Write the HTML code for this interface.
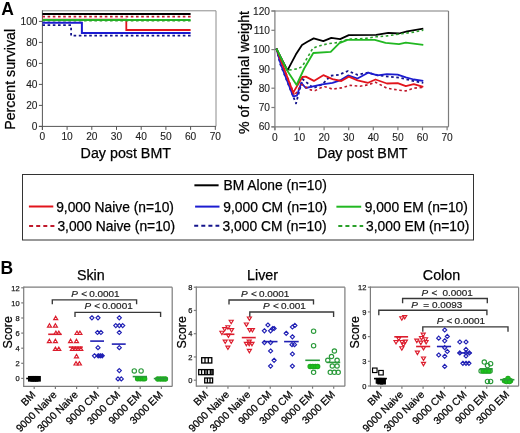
<!DOCTYPE html>
<html><head><meta charset="utf-8"><style>
html,body{margin:0;padding:0;background:#fff;overflow:hidden;width:520px;height:433px;}
svg{display:block;font-family:"Liberation Sans", sans-serif;will-change:transform;}
</style></head><body>
<svg width="520" height="433" viewBox="0 0 520 433">
<rect width="520" height="433" fill="#fff"/>
<text x="1.30" y="14.60" font-size="17.5" text-anchor="start" fill="#000" font-weight="bold" font-style="normal">A</text>
<line x1="42.40" y1="10.80" x2="216.00" y2="10.80" stroke="#8c8c8c" stroke-width="1" stroke-linecap="butt"/>
<line x1="216.00" y1="10.80" x2="216.00" y2="126.40" stroke="#8c8c8c" stroke-width="1" stroke-linecap="butt"/>
<line x1="42.40" y1="10.30" x2="42.40" y2="129.90" stroke="#555" stroke-width="1" stroke-linecap="butt"/>
<line x1="38.90" y1="126.40" x2="216.00" y2="126.40" stroke="#555" stroke-width="1" stroke-linecap="butt"/>
<line x1="38.90" y1="126.40" x2="42.40" y2="126.40" stroke="#555" stroke-width="1" stroke-linecap="butt"/>
<text x="37.50" y="130.00" font-size="10.2" text-anchor="end" fill="#1e1e1e" font-weight="normal" font-style="normal" stroke="#1e1e1e" stroke-width="0.12">0</text>
<line x1="38.90" y1="105.40" x2="42.40" y2="105.40" stroke="#555" stroke-width="1" stroke-linecap="butt"/>
<text x="37.50" y="109.00" font-size="10.2" text-anchor="end" fill="#1e1e1e" font-weight="normal" font-style="normal" stroke="#1e1e1e" stroke-width="0.12">20</text>
<line x1="38.90" y1="84.40" x2="42.40" y2="84.40" stroke="#555" stroke-width="1" stroke-linecap="butt"/>
<text x="37.50" y="88.00" font-size="10.2" text-anchor="end" fill="#1e1e1e" font-weight="normal" font-style="normal" stroke="#1e1e1e" stroke-width="0.12">40</text>
<line x1="38.90" y1="63.40" x2="42.40" y2="63.40" stroke="#555" stroke-width="1" stroke-linecap="butt"/>
<text x="37.50" y="67.00" font-size="10.2" text-anchor="end" fill="#1e1e1e" font-weight="normal" font-style="normal" stroke="#1e1e1e" stroke-width="0.12">60</text>
<line x1="38.90" y1="42.40" x2="42.40" y2="42.40" stroke="#555" stroke-width="1" stroke-linecap="butt"/>
<text x="37.50" y="46.00" font-size="10.2" text-anchor="end" fill="#1e1e1e" font-weight="normal" font-style="normal" stroke="#1e1e1e" stroke-width="0.12">80</text>
<line x1="38.90" y1="21.40" x2="42.40" y2="21.40" stroke="#555" stroke-width="1" stroke-linecap="butt"/>
<text x="37.50" y="25.00" font-size="10.2" text-anchor="end" fill="#1e1e1e" font-weight="normal" font-style="normal" stroke="#1e1e1e" stroke-width="0.12">100</text>
<line x1="42.40" y1="126.40" x2="42.40" y2="129.90" stroke="#555" stroke-width="1" stroke-linecap="butt"/>
<text x="42.40" y="140.30" font-size="10.2" text-anchor="middle" fill="#1e1e1e" font-weight="normal" font-style="normal" stroke="#1e1e1e" stroke-width="0.12">0</text>
<line x1="67.10" y1="126.40" x2="67.10" y2="129.90" stroke="#555" stroke-width="1" stroke-linecap="butt"/>
<text x="67.10" y="140.30" font-size="10.2" text-anchor="middle" fill="#1e1e1e" font-weight="normal" font-style="normal" stroke="#1e1e1e" stroke-width="0.12">10</text>
<line x1="91.80" y1="126.40" x2="91.80" y2="129.90" stroke="#555" stroke-width="1" stroke-linecap="butt"/>
<text x="91.80" y="140.30" font-size="10.2" text-anchor="middle" fill="#1e1e1e" font-weight="normal" font-style="normal" stroke="#1e1e1e" stroke-width="0.12">20</text>
<line x1="116.50" y1="126.40" x2="116.50" y2="129.90" stroke="#555" stroke-width="1" stroke-linecap="butt"/>
<text x="116.50" y="140.30" font-size="10.2" text-anchor="middle" fill="#1e1e1e" font-weight="normal" font-style="normal" stroke="#1e1e1e" stroke-width="0.12">30</text>
<line x1="141.20" y1="126.40" x2="141.20" y2="129.90" stroke="#555" stroke-width="1" stroke-linecap="butt"/>
<text x="141.20" y="140.30" font-size="10.2" text-anchor="middle" fill="#1e1e1e" font-weight="normal" font-style="normal" stroke="#1e1e1e" stroke-width="0.12">40</text>
<line x1="165.90" y1="126.40" x2="165.90" y2="129.90" stroke="#555" stroke-width="1" stroke-linecap="butt"/>
<text x="165.90" y="140.30" font-size="10.2" text-anchor="middle" fill="#1e1e1e" font-weight="normal" font-style="normal" stroke="#1e1e1e" stroke-width="0.12">50</text>
<line x1="190.60" y1="126.40" x2="190.60" y2="129.90" stroke="#555" stroke-width="1" stroke-linecap="butt"/>
<text x="190.60" y="140.30" font-size="10.2" text-anchor="middle" fill="#1e1e1e" font-weight="normal" font-style="normal" stroke="#1e1e1e" stroke-width="0.12">60</text>
<line x1="215.30" y1="126.40" x2="215.30" y2="129.90" stroke="#555" stroke-width="1" stroke-linecap="butt"/>
<text x="215.30" y="140.30" font-size="10.2" text-anchor="middle" fill="#1e1e1e" font-weight="normal" font-style="normal" stroke="#1e1e1e" stroke-width="0.12">70</text>
<text x="14.70" y="79.30" font-size="14.2" text-anchor="middle" fill="#000" font-weight="normal" font-style="normal" transform="rotate(-90 14.70 79.30)" stroke="#000" stroke-width="0.25">Percent survival</text>
<text x="125.80" y="157.90" font-size="14.27" text-anchor="middle" fill="#000" font-weight="normal" font-style="normal" stroke="#000" stroke-width="0.25">Day post BMT</text>
<line x1="42.40" y1="14.00" x2="190.60" y2="14.00" stroke="#000" stroke-width="2" stroke-linecap="butt"/>
<line x1="42.40" y1="16.60" x2="190.60" y2="16.60" stroke="#c01a2c" stroke-width="1.6" stroke-dasharray="2.6 2.6" stroke-linecap="butt"/>
<polyline points="42.40,19.60 126.30,19.60 126.30,30.00 190.60,30.00" fill="none" stroke="#e2141c" stroke-width="1.8" stroke-linejoin="miter"/>
<line x1="42.40" y1="19.90" x2="190.60" y2="19.90" stroke="#22b822" stroke-width="2" stroke-linecap="butt"/>
<line x1="42.40" y1="20.90" x2="190.60" y2="20.90" stroke="#2aa02a" stroke-width="1.4" stroke-dasharray="2.6 2.6" stroke-linecap="butt"/>
<polyline points="42.40,22.80 81.90,22.80 81.90,32.90 190.60,32.90" fill="none" stroke="#1c1cd0" stroke-width="2" stroke-linejoin="miter"/>
<polyline points="42.40,25.20 71.10,25.20 71.10,35.60 190.60,35.60" fill="none" stroke="#14148c" stroke-width="1.8" stroke-dasharray="2.6 2.6" stroke-linejoin="miter"/>
<line x1="271.40" y1="11.00" x2="448.50" y2="11.00" stroke="#7c7c7c" stroke-width="1.2" stroke-linecap="butt"/>
<line x1="448.50" y1="11.00" x2="448.50" y2="126.80" stroke="#7c7c7c" stroke-width="1.2" stroke-linecap="butt"/>
<line x1="274.90" y1="10.40" x2="274.90" y2="130.30" stroke="#7c7c7c" stroke-width="1.2" stroke-linecap="butt"/>
<line x1="271.40" y1="126.80" x2="448.50" y2="126.80" stroke="#7c7c7c" stroke-width="1.2" stroke-linecap="butt"/>
<line x1="271.40" y1="126.80" x2="274.90" y2="126.80" stroke="#7c7c7c" stroke-width="1.2" stroke-linecap="butt"/>
<text x="270.00" y="130.40" font-size="10.2" text-anchor="end" fill="#1e1e1e" font-weight="normal" font-style="normal" stroke="#1e1e1e" stroke-width="0.12">60</text>
<line x1="271.40" y1="107.50" x2="274.90" y2="107.50" stroke="#7c7c7c" stroke-width="1.2" stroke-linecap="butt"/>
<text x="270.00" y="111.10" font-size="10.2" text-anchor="end" fill="#1e1e1e" font-weight="normal" font-style="normal" stroke="#1e1e1e" stroke-width="0.12">70</text>
<line x1="271.40" y1="88.20" x2="274.90" y2="88.20" stroke="#7c7c7c" stroke-width="1.2" stroke-linecap="butt"/>
<text x="270.00" y="91.80" font-size="10.2" text-anchor="end" fill="#1e1e1e" font-weight="normal" font-style="normal" stroke="#1e1e1e" stroke-width="0.12">80</text>
<line x1="271.40" y1="68.90" x2="274.90" y2="68.90" stroke="#7c7c7c" stroke-width="1.2" stroke-linecap="butt"/>
<text x="270.00" y="72.50" font-size="10.2" text-anchor="end" fill="#1e1e1e" font-weight="normal" font-style="normal" stroke="#1e1e1e" stroke-width="0.12">90</text>
<line x1="271.40" y1="49.60" x2="274.90" y2="49.60" stroke="#7c7c7c" stroke-width="1.2" stroke-linecap="butt"/>
<text x="270.00" y="53.20" font-size="10.2" text-anchor="end" fill="#1e1e1e" font-weight="normal" font-style="normal" stroke="#1e1e1e" stroke-width="0.12">100</text>
<line x1="271.40" y1="30.30" x2="274.90" y2="30.30" stroke="#7c7c7c" stroke-width="1.2" stroke-linecap="butt"/>
<text x="270.00" y="33.90" font-size="10.2" text-anchor="end" fill="#1e1e1e" font-weight="normal" font-style="normal" stroke="#1e1e1e" stroke-width="0.12">110</text>
<line x1="271.40" y1="11.00" x2="274.90" y2="11.00" stroke="#7c7c7c" stroke-width="1.2" stroke-linecap="butt"/>
<text x="270.00" y="14.60" font-size="10.2" text-anchor="end" fill="#1e1e1e" font-weight="normal" font-style="normal" stroke="#1e1e1e" stroke-width="0.12">120</text>
<line x1="274.90" y1="126.80" x2="274.90" y2="130.30" stroke="#7c7c7c" stroke-width="1.2" stroke-linecap="butt"/>
<text x="274.90" y="140.70" font-size="10.2" text-anchor="middle" fill="#1e1e1e" font-weight="normal" font-style="normal" stroke="#1e1e1e" stroke-width="0.12">0</text>
<line x1="299.50" y1="126.80" x2="299.50" y2="130.30" stroke="#7c7c7c" stroke-width="1.2" stroke-linecap="butt"/>
<text x="299.50" y="140.70" font-size="10.2" text-anchor="middle" fill="#1e1e1e" font-weight="normal" font-style="normal" stroke="#1e1e1e" stroke-width="0.12">10</text>
<line x1="324.10" y1="126.80" x2="324.10" y2="130.30" stroke="#7c7c7c" stroke-width="1.2" stroke-linecap="butt"/>
<text x="324.10" y="140.70" font-size="10.2" text-anchor="middle" fill="#1e1e1e" font-weight="normal" font-style="normal" stroke="#1e1e1e" stroke-width="0.12">20</text>
<line x1="348.70" y1="126.80" x2="348.70" y2="130.30" stroke="#7c7c7c" stroke-width="1.2" stroke-linecap="butt"/>
<text x="348.70" y="140.70" font-size="10.2" text-anchor="middle" fill="#1e1e1e" font-weight="normal" font-style="normal" stroke="#1e1e1e" stroke-width="0.12">30</text>
<line x1="373.30" y1="126.80" x2="373.30" y2="130.30" stroke="#7c7c7c" stroke-width="1.2" stroke-linecap="butt"/>
<text x="373.30" y="140.70" font-size="10.2" text-anchor="middle" fill="#1e1e1e" font-weight="normal" font-style="normal" stroke="#1e1e1e" stroke-width="0.12">40</text>
<line x1="397.90" y1="126.80" x2="397.90" y2="130.30" stroke="#7c7c7c" stroke-width="1.2" stroke-linecap="butt"/>
<text x="397.90" y="140.70" font-size="10.2" text-anchor="middle" fill="#1e1e1e" font-weight="normal" font-style="normal" stroke="#1e1e1e" stroke-width="0.12">50</text>
<line x1="422.50" y1="126.80" x2="422.50" y2="130.30" stroke="#7c7c7c" stroke-width="1.2" stroke-linecap="butt"/>
<text x="422.50" y="140.70" font-size="10.2" text-anchor="middle" fill="#1e1e1e" font-weight="normal" font-style="normal" stroke="#1e1e1e" stroke-width="0.12">60</text>
<line x1="447.10" y1="126.80" x2="447.10" y2="130.30" stroke="#7c7c7c" stroke-width="1.2" stroke-linecap="butt"/>
<text x="447.10" y="140.70" font-size="10.2" text-anchor="middle" fill="#1e1e1e" font-weight="normal" font-style="normal" stroke="#1e1e1e" stroke-width="0.12">70</text>
<text x="248.70" y="72.50" font-size="14.2" text-anchor="middle" fill="#000" font-weight="normal" font-style="normal" transform="rotate(-90 248.70 72.50)" stroke="#000" stroke-width="0.25">% of original weight</text>
<text x="362.30" y="157.90" font-size="14.27" text-anchor="middle" fill="#000" font-weight="normal" font-style="normal" stroke="#000" stroke-width="0.25">Day post BMT</text>
<polyline points="276.40,48.60 280.40,64.50 296.00,103.40 302.50,79.00 313.30,88.00 322.50,84.30 330.50,75.80 338.80,74.80 348.10,71.00 357.50,74.80 368.10,72.70 377.50,75.20 389.60,76.80 400.40,77.80 411.10,80.50 423.30,82.80" fill="none" stroke="#14148c" stroke-width="1.8" stroke-dasharray="2.6 2.6" stroke-linejoin="round"/>
<polyline points="276.40,48.60 280.80,64.50 293.20,96.40 296.90,95.60 301.30,82.90 305.80,88.00 311.90,86.70 322.20,84.30 332.50,82.90 340.00,80.40 348.10,75.40 357.50,78.50 368.10,72.70 377.50,75.40 386.90,74.10 397.70,74.70 405.80,77.40 413.80,79.50 423.30,80.80" fill="none" stroke="#1c1cd0" stroke-width="1.8" stroke-linejoin="round"/>
<polyline points="276.40,48.60 294.50,95.50 301.50,84.50 310.50,89.90 315.30,90.50 320.20,88.10 324.70,86.70 332.50,89.10 341.30,87.90 350.00,85.40 360.00,86.20 368.10,84.80 375.50,82.20 386.90,88.20 397.70,90.00 405.80,90.90 413.80,88.20 423.30,87.30" fill="none" stroke="#c01a2c" stroke-width="1.6" stroke-dasharray="2.6 2.6" stroke-linejoin="round"/>
<polyline points="276.40,48.60 293.20,92.60 302.40,77.00 305.80,76.60 313.90,80.90 323.30,75.20 332.50,79.10 341.30,81.00 348.80,76.60 357.50,80.40 368.10,82.80 375.50,79.50 386.90,83.50 397.70,83.20 405.80,86.20 413.80,84.20 423.30,86.90" fill="none" stroke="#e2141c" stroke-width="1.8" stroke-linejoin="round"/>
<polyline points="276.40,48.60 287.50,70.30 295.80,54.60 302.00,44.90 307.40,41.70 313.70,38.40 323.30,41.20 331.30,37.80 340.10,39.10 348.80,35.10 376.20,34.80 388.30,32.80 399.00,33.50 407.10,31.40 423.30,28.70" fill="none" stroke="#000" stroke-width="1.8" stroke-linejoin="round"/>
<polyline points="276.40,48.60 287.50,70.30 297.50,68.80 302.30,66.50 312.80,48.40 316.60,46.70 327.30,43.80 338.10,42.50 348.80,39.10 365.00,38.50 376.20,36.80 386.90,35.90 399.00,34.10 413.80,32.10 423.30,30.10" fill="none" stroke="#2aa02a" stroke-width="1.6" stroke-dasharray="2.6 2.6" stroke-linejoin="round"/>
<polyline points="276.40,48.60 287.30,70.80 296.60,85.00 304.20,68.50 313.30,53.00 330.70,51.90 339.40,43.20 347.50,39.80 374.80,39.90 385.60,42.90 399.00,44.20 405.80,42.60 423.30,44.90" fill="none" stroke="#22b822" stroke-width="1.8" stroke-linejoin="round"/>
<rect x="22.5" y="174.5" width="451" height="65.5" fill="none" stroke="#333" stroke-width="1"/>
<line x1="194.40" y1="185.30" x2="218.60" y2="185.30" stroke="#000" stroke-width="2" stroke-linecap="butt"/>
<text x="223.60" y="190.30" font-size="13.8" text-anchor="start" fill="#000" font-weight="normal" font-style="normal" stroke="#000" stroke-width="0.25">BM Alone (n=10)</text>
<line x1="28.90" y1="206.50" x2="53.30" y2="206.50" stroke="#e2141c" stroke-width="2" stroke-linecap="butt"/>
<text x="56.20" y="211.80" font-size="13.8" text-anchor="start" fill="#000" font-weight="normal" font-style="normal" stroke="#000" stroke-width="0.25">9,000 Naive (n=10)</text>
<line x1="29.10" y1="225.90" x2="54.40" y2="225.90" stroke="#c01a2c" stroke-width="2" stroke-dasharray="4 3.1" stroke-linecap="butt"/>
<text x="57.40" y="231.20" font-size="13.8" text-anchor="start" fill="#000" font-weight="normal" font-style="normal" stroke="#000" stroke-width="0.25">3,000 Naive (n=10)</text>
<line x1="195.10" y1="206.60" x2="219.50" y2="206.60" stroke="#1c1cd0" stroke-width="2" stroke-linecap="butt"/>
<text x="223.30" y="211.80" font-size="13.8" text-anchor="start" fill="#000" font-weight="normal" font-style="normal" stroke="#000" stroke-width="0.25">9,000 CM (n=10)</text>
<line x1="194.20" y1="225.80" x2="219.30" y2="225.80" stroke="#14148c" stroke-width="2" stroke-dasharray="4 3.1" stroke-linecap="butt"/>
<text x="222.60" y="231.20" font-size="13.8" text-anchor="start" fill="#000" font-weight="normal" font-style="normal" stroke="#000" stroke-width="0.25">3,000 CM (n=10)</text>
<line x1="336.40" y1="206.70" x2="361.20" y2="206.70" stroke="#22b822" stroke-width="2" stroke-linecap="butt"/>
<text x="364.70" y="211.80" font-size="13.8" text-anchor="start" fill="#000" font-weight="normal" font-style="normal" stroke="#000" stroke-width="0.25">9,000 EM (n=10)</text>
<line x1="338.30" y1="225.90" x2="363.20" y2="225.90" stroke="#2aa02a" stroke-width="2" stroke-dasharray="4 3.1" stroke-linecap="butt"/>
<text x="366.10" y="231.20" font-size="13.8" text-anchor="start" fill="#000" font-weight="normal" font-style="normal" stroke="#000" stroke-width="0.25">3,000 EM (n=10)</text>
<text x="0.60" y="273.90" font-size="17.5" text-anchor="start" fill="#000" font-weight="bold" font-style="normal">B</text>
<line x1="23.70" y1="287.20" x2="172.20" y2="287.20" stroke="#7c7c7c" stroke-width="1.2" stroke-linecap="butt"/>
<line x1="172.20" y1="287.20" x2="172.20" y2="386.40" stroke="#7c7c7c" stroke-width="1.2" stroke-linecap="butt"/>
<line x1="23.70" y1="286.60" x2="23.70" y2="387.00" stroke="#7c7c7c" stroke-width="1.2" stroke-linecap="butt"/>
<line x1="23.70" y1="386.40" x2="172.20" y2="386.40" stroke="#7c7c7c" stroke-width="1.2" stroke-linecap="butt"/>
<line x1="21.20" y1="378.40" x2="23.70" y2="378.40" stroke="#7c7c7c" stroke-width="1.2" stroke-linecap="butt"/>
<text x="19.70" y="381.10" font-size="7.5" text-anchor="end" fill="#1e1e1e" font-weight="normal" font-style="normal" stroke="#1e1e1e" stroke-width="0.25">0</text>
<line x1="21.20" y1="363.30" x2="23.70" y2="363.30" stroke="#7c7c7c" stroke-width="1.2" stroke-linecap="butt"/>
<text x="19.70" y="366.00" font-size="7.5" text-anchor="end" fill="#1e1e1e" font-weight="normal" font-style="normal" stroke="#1e1e1e" stroke-width="0.25">2</text>
<line x1="21.20" y1="348.20" x2="23.70" y2="348.20" stroke="#7c7c7c" stroke-width="1.2" stroke-linecap="butt"/>
<text x="19.70" y="350.90" font-size="7.5" text-anchor="end" fill="#1e1e1e" font-weight="normal" font-style="normal" stroke="#1e1e1e" stroke-width="0.25">4</text>
<line x1="21.20" y1="333.10" x2="23.70" y2="333.10" stroke="#7c7c7c" stroke-width="1.2" stroke-linecap="butt"/>
<text x="19.70" y="335.80" font-size="7.5" text-anchor="end" fill="#1e1e1e" font-weight="normal" font-style="normal" stroke="#1e1e1e" stroke-width="0.25">6</text>
<line x1="21.20" y1="318.00" x2="23.70" y2="318.00" stroke="#7c7c7c" stroke-width="1.2" stroke-linecap="butt"/>
<text x="19.70" y="320.70" font-size="7.5" text-anchor="end" fill="#1e1e1e" font-weight="normal" font-style="normal" stroke="#1e1e1e" stroke-width="0.25">8</text>
<line x1="21.20" y1="302.90" x2="23.70" y2="302.90" stroke="#7c7c7c" stroke-width="1.2" stroke-linecap="butt"/>
<text x="19.70" y="305.60" font-size="7.5" text-anchor="end" fill="#1e1e1e" font-weight="normal" font-style="normal" stroke="#1e1e1e" stroke-width="0.25">10</text>
<line x1="21.20" y1="287.80" x2="23.70" y2="287.80" stroke="#7c7c7c" stroke-width="1.2" stroke-linecap="butt"/>
<text x="19.70" y="290.50" font-size="7.5" text-anchor="end" fill="#1e1e1e" font-weight="normal" font-style="normal" stroke="#1e1e1e" stroke-width="0.25">12</text>
<line x1="34.20" y1="386.40" x2="34.20" y2="388.90" stroke="#7c7c7c" stroke-width="1.2" stroke-linecap="butt"/>
<line x1="55.40" y1="386.40" x2="55.40" y2="388.90" stroke="#7c7c7c" stroke-width="1.2" stroke-linecap="butt"/>
<line x1="76.60" y1="386.40" x2="76.60" y2="388.90" stroke="#7c7c7c" stroke-width="1.2" stroke-linecap="butt"/>
<line x1="97.80" y1="386.40" x2="97.80" y2="388.90" stroke="#7c7c7c" stroke-width="1.2" stroke-linecap="butt"/>
<line x1="119.00" y1="386.40" x2="119.00" y2="388.90" stroke="#7c7c7c" stroke-width="1.2" stroke-linecap="butt"/>
<line x1="140.20" y1="386.40" x2="140.20" y2="388.90" stroke="#7c7c7c" stroke-width="1.2" stroke-linecap="butt"/>
<line x1="161.40" y1="386.40" x2="161.40" y2="388.90" stroke="#7c7c7c" stroke-width="1.2" stroke-linecap="butt"/>
<text x="90.80" y="280.10" font-size="14.3" text-anchor="middle" fill="#000" font-weight="normal" font-style="normal" stroke="#000" stroke-width="0.25">Skin</text>
<text x="11.60" y="332.30" font-size="12.4" text-anchor="middle" fill="#000" font-weight="normal" font-style="normal" transform="rotate(-90 11.60 332.30)" stroke="#000" stroke-width="0.25">Score</text>
<text x="36.20" y="395.40" font-size="10.4" text-anchor="end" fill="#000" font-weight="normal" font-style="normal" transform="rotate(-45 36.20 395.40)" stroke="#000" stroke-width="0.25">BM</text>
<text x="57.40" y="395.40" font-size="10.4" text-anchor="end" fill="#000" font-weight="normal" font-style="normal" transform="rotate(-45 57.40 395.40)" stroke="#000" stroke-width="0.25">9000 Naive</text>
<text x="78.60" y="395.40" font-size="10.4" text-anchor="end" fill="#000" font-weight="normal" font-style="normal" transform="rotate(-45 78.60 395.40)" stroke="#000" stroke-width="0.25">3000 Naive</text>
<text x="99.80" y="395.40" font-size="10.4" text-anchor="end" fill="#000" font-weight="normal" font-style="normal" transform="rotate(-45 99.80 395.40)" stroke="#000" stroke-width="0.25">9000 CM</text>
<text x="121.00" y="395.40" font-size="10.4" text-anchor="end" fill="#000" font-weight="normal" font-style="normal" transform="rotate(-45 121.00 395.40)" stroke="#000" stroke-width="0.25">3000 CM</text>
<text x="142.20" y="395.40" font-size="10.4" text-anchor="end" fill="#000" font-weight="normal" font-style="normal" transform="rotate(-45 142.20 395.40)" stroke="#000" stroke-width="0.25">9000 EM</text>
<text x="163.40" y="395.40" font-size="10.4" text-anchor="end" fill="#000" font-weight="normal" font-style="normal" transform="rotate(-45 163.40 395.40)" stroke="#000" stroke-width="0.25">3000 EM</text>
<line x1="196.30" y1="287.20" x2="344.90" y2="287.20" stroke="#7c7c7c" stroke-width="1.2" stroke-linecap="butt"/>
<line x1="344.90" y1="287.20" x2="344.90" y2="386.20" stroke="#7c7c7c" stroke-width="1.2" stroke-linecap="butt"/>
<line x1="196.30" y1="286.60" x2="196.30" y2="386.80" stroke="#7c7c7c" stroke-width="1.2" stroke-linecap="butt"/>
<line x1="196.30" y1="386.20" x2="344.90" y2="386.20" stroke="#7c7c7c" stroke-width="1.2" stroke-linecap="butt"/>
<line x1="193.80" y1="380.20" x2="196.30" y2="380.20" stroke="#7c7c7c" stroke-width="1.2" stroke-linecap="butt"/>
<text x="192.30" y="382.90" font-size="7.5" text-anchor="end" fill="#1e1e1e" font-weight="normal" font-style="normal" stroke="#1e1e1e" stroke-width="0.25">0</text>
<line x1="193.80" y1="356.95" x2="196.30" y2="356.95" stroke="#7c7c7c" stroke-width="1.2" stroke-linecap="butt"/>
<text x="192.30" y="359.65" font-size="7.5" text-anchor="end" fill="#1e1e1e" font-weight="normal" font-style="normal" stroke="#1e1e1e" stroke-width="0.25">2</text>
<line x1="193.80" y1="333.70" x2="196.30" y2="333.70" stroke="#7c7c7c" stroke-width="1.2" stroke-linecap="butt"/>
<text x="192.30" y="336.40" font-size="7.5" text-anchor="end" fill="#1e1e1e" font-weight="normal" font-style="normal" stroke="#1e1e1e" stroke-width="0.25">4</text>
<line x1="193.80" y1="310.45" x2="196.30" y2="310.45" stroke="#7c7c7c" stroke-width="1.2" stroke-linecap="butt"/>
<text x="192.30" y="313.15" font-size="7.5" text-anchor="end" fill="#1e1e1e" font-weight="normal" font-style="normal" stroke="#1e1e1e" stroke-width="0.25">6</text>
<line x1="193.80" y1="287.20" x2="196.30" y2="287.20" stroke="#7c7c7c" stroke-width="1.2" stroke-linecap="butt"/>
<text x="192.30" y="289.90" font-size="7.5" text-anchor="end" fill="#1e1e1e" font-weight="normal" font-style="normal" stroke="#1e1e1e" stroke-width="0.25">8</text>
<line x1="206.80" y1="386.20" x2="206.80" y2="388.70" stroke="#7c7c7c" stroke-width="1.2" stroke-linecap="butt"/>
<line x1="227.95" y1="386.20" x2="227.95" y2="388.70" stroke="#7c7c7c" stroke-width="1.2" stroke-linecap="butt"/>
<line x1="249.10" y1="386.20" x2="249.10" y2="388.70" stroke="#7c7c7c" stroke-width="1.2" stroke-linecap="butt"/>
<line x1="270.25" y1="386.20" x2="270.25" y2="388.70" stroke="#7c7c7c" stroke-width="1.2" stroke-linecap="butt"/>
<line x1="291.40" y1="386.20" x2="291.40" y2="388.70" stroke="#7c7c7c" stroke-width="1.2" stroke-linecap="butt"/>
<line x1="312.55" y1="386.20" x2="312.55" y2="388.70" stroke="#7c7c7c" stroke-width="1.2" stroke-linecap="butt"/>
<line x1="333.70" y1="386.20" x2="333.70" y2="388.70" stroke="#7c7c7c" stroke-width="1.2" stroke-linecap="butt"/>
<text x="262.60" y="280.10" font-size="14.3" text-anchor="middle" fill="#000" font-weight="normal" font-style="normal" stroke="#000" stroke-width="0.25">Liver</text>
<text x="185.80" y="332.30" font-size="12.4" text-anchor="middle" fill="#000" font-weight="normal" font-style="normal" transform="rotate(-90 185.80 332.30)" stroke="#000" stroke-width="0.25">Score</text>
<text x="208.80" y="395.20" font-size="10.4" text-anchor="end" fill="#000" font-weight="normal" font-style="normal" transform="rotate(-45 208.80 395.20)" stroke="#000" stroke-width="0.25">BM</text>
<text x="229.95" y="395.20" font-size="10.4" text-anchor="end" fill="#000" font-weight="normal" font-style="normal" transform="rotate(-45 229.95 395.20)" stroke="#000" stroke-width="0.25">9000 Naive</text>
<text x="251.10" y="395.20" font-size="10.4" text-anchor="end" fill="#000" font-weight="normal" font-style="normal" transform="rotate(-45 251.10 395.20)" stroke="#000" stroke-width="0.25">3000 Naive</text>
<text x="272.25" y="395.20" font-size="10.4" text-anchor="end" fill="#000" font-weight="normal" font-style="normal" transform="rotate(-45 272.25 395.20)" stroke="#000" stroke-width="0.25">9000 CM</text>
<text x="293.40" y="395.20" font-size="10.4" text-anchor="end" fill="#000" font-weight="normal" font-style="normal" transform="rotate(-45 293.40 395.20)" stroke="#000" stroke-width="0.25">3000 CM</text>
<text x="314.55" y="395.20" font-size="10.4" text-anchor="end" fill="#000" font-weight="normal" font-style="normal" transform="rotate(-45 314.55 395.20)" stroke="#000" stroke-width="0.25">9000 EM</text>
<text x="335.70" y="395.20" font-size="10.4" text-anchor="end" fill="#000" font-weight="normal" font-style="normal" transform="rotate(-45 335.70 395.20)" stroke="#000" stroke-width="0.25">3000 EM</text>
<line x1="370.40" y1="287.20" x2="518.60" y2="287.20" stroke="#7c7c7c" stroke-width="1.2" stroke-linecap="butt"/>
<line x1="518.60" y1="287.20" x2="518.60" y2="386.20" stroke="#7c7c7c" stroke-width="1.2" stroke-linecap="butt"/>
<line x1="370.40" y1="286.60" x2="370.40" y2="386.80" stroke="#7c7c7c" stroke-width="1.2" stroke-linecap="butt"/>
<line x1="370.40" y1="386.20" x2="518.60" y2="386.20" stroke="#7c7c7c" stroke-width="1.2" stroke-linecap="butt"/>
<line x1="367.90" y1="386.00" x2="370.40" y2="386.00" stroke="#7c7c7c" stroke-width="1.2" stroke-linecap="butt"/>
<text x="366.40" y="388.70" font-size="7.5" text-anchor="end" fill="#1e1e1e" font-weight="normal" font-style="normal" stroke="#1e1e1e" stroke-width="0.25">0</text>
<line x1="367.90" y1="361.30" x2="370.40" y2="361.30" stroke="#7c7c7c" stroke-width="1.2" stroke-linecap="butt"/>
<text x="366.40" y="364.00" font-size="7.5" text-anchor="end" fill="#1e1e1e" font-weight="normal" font-style="normal" stroke="#1e1e1e" stroke-width="0.25">3</text>
<line x1="367.90" y1="336.60" x2="370.40" y2="336.60" stroke="#7c7c7c" stroke-width="1.2" stroke-linecap="butt"/>
<text x="366.40" y="339.30" font-size="7.5" text-anchor="end" fill="#1e1e1e" font-weight="normal" font-style="normal" stroke="#1e1e1e" stroke-width="0.25">6</text>
<line x1="367.90" y1="311.90" x2="370.40" y2="311.90" stroke="#7c7c7c" stroke-width="1.2" stroke-linecap="butt"/>
<text x="366.40" y="314.60" font-size="7.5" text-anchor="end" fill="#1e1e1e" font-weight="normal" font-style="normal" stroke="#1e1e1e" stroke-width="0.25">9</text>
<line x1="367.90" y1="287.20" x2="370.40" y2="287.20" stroke="#7c7c7c" stroke-width="1.2" stroke-linecap="butt"/>
<text x="366.40" y="289.90" font-size="7.5" text-anchor="end" fill="#1e1e1e" font-weight="normal" font-style="normal" stroke="#1e1e1e" stroke-width="0.25">12</text>
<line x1="380.70" y1="386.20" x2="380.70" y2="388.70" stroke="#7c7c7c" stroke-width="1.2" stroke-linecap="butt"/>
<line x1="401.90" y1="386.20" x2="401.90" y2="388.70" stroke="#7c7c7c" stroke-width="1.2" stroke-linecap="butt"/>
<line x1="423.10" y1="386.20" x2="423.10" y2="388.70" stroke="#7c7c7c" stroke-width="1.2" stroke-linecap="butt"/>
<line x1="444.30" y1="386.20" x2="444.30" y2="388.70" stroke="#7c7c7c" stroke-width="1.2" stroke-linecap="butt"/>
<line x1="465.50" y1="386.20" x2="465.50" y2="388.70" stroke="#7c7c7c" stroke-width="1.2" stroke-linecap="butt"/>
<line x1="486.70" y1="386.20" x2="486.70" y2="388.70" stroke="#7c7c7c" stroke-width="1.2" stroke-linecap="butt"/>
<line x1="507.90" y1="386.20" x2="507.90" y2="388.70" stroke="#7c7c7c" stroke-width="1.2" stroke-linecap="butt"/>
<text x="441.50" y="280.10" font-size="14.3" text-anchor="middle" fill="#000" font-weight="normal" font-style="normal" stroke="#000" stroke-width="0.25">Colon</text>
<text x="359.20" y="332.30" font-size="12.4" text-anchor="middle" fill="#000" font-weight="normal" font-style="normal" transform="rotate(-90 359.20 332.30)" stroke="#000" stroke-width="0.25">Score</text>
<text x="382.70" y="395.20" font-size="10.4" text-anchor="end" fill="#000" font-weight="normal" font-style="normal" transform="rotate(-45 382.70 395.20)" stroke="#000" stroke-width="0.25">BM</text>
<text x="403.90" y="395.20" font-size="10.4" text-anchor="end" fill="#000" font-weight="normal" font-style="normal" transform="rotate(-45 403.90 395.20)" stroke="#000" stroke-width="0.25">9000 Naive</text>
<text x="425.10" y="395.20" font-size="10.4" text-anchor="end" fill="#000" font-weight="normal" font-style="normal" transform="rotate(-45 425.10 395.20)" stroke="#000" stroke-width="0.25">3000 Naive</text>
<text x="446.30" y="395.20" font-size="10.4" text-anchor="end" fill="#000" font-weight="normal" font-style="normal" transform="rotate(-45 446.30 395.20)" stroke="#000" stroke-width="0.25">9000 CM</text>
<text x="467.50" y="395.20" font-size="10.4" text-anchor="end" fill="#000" font-weight="normal" font-style="normal" transform="rotate(-45 467.50 395.20)" stroke="#000" stroke-width="0.25">3000 CM</text>
<text x="488.70" y="395.20" font-size="10.4" text-anchor="end" fill="#000" font-weight="normal" font-style="normal" transform="rotate(-45 488.70 395.20)" stroke="#000" stroke-width="0.25">9000 EM</text>
<text x="509.90" y="395.20" font-size="10.4" text-anchor="end" fill="#000" font-weight="normal" font-style="normal" transform="rotate(-45 509.90 395.20)" stroke="#000" stroke-width="0.25">3000 EM</text>
<path d="M52.30,304.20 L52.30,299.80 L136.60,299.80 L136.60,304.20" fill="none" stroke="#383838" stroke-width="1.35"/>
<text transform="translate(71.30 297.00) scale(1.07 1)" font-size="9.3" fill="#1e1e1e" stroke="#1e1e1e" stroke-width="0.2" font-style="italic">P</text>
<text transform="translate(81.20 297.00) scale(1.07 1)" font-size="9.3" fill="#1e1e1e" stroke="#1e1e1e" stroke-width="0.2" font-style="normal">&lt;</text>
<text transform="translate(89.20 297.00) scale(1.07 1)" font-size="9.3" fill="#1e1e1e" stroke="#1e1e1e" stroke-width="0.2" font-style="normal">0.0001</text>
<path d="M75.00,317.00 L75.00,312.40 L160.60,312.40 L160.60,317.00" fill="none" stroke="#383838" stroke-width="1.35"/>
<text transform="translate(84.40 309.30) scale(1.07 1)" font-size="9.3" fill="#1e1e1e" stroke="#1e1e1e" stroke-width="0.2" font-style="italic">P</text>
<text transform="translate(94.30 309.30) scale(1.07 1)" font-size="9.3" fill="#1e1e1e" stroke="#1e1e1e" stroke-width="0.2" font-style="normal">&lt;</text>
<text transform="translate(102.30 309.30) scale(1.07 1)" font-size="9.3" fill="#1e1e1e" stroke="#1e1e1e" stroke-width="0.2" font-style="normal">0.0001</text>
<rect x="28.55" y="376.55" width="4.50" height="4.50" fill="#000" stroke="#000" stroke-width="1.15"/>
<rect x="30.95" y="376.55" width="4.50" height="4.50" fill="#000" stroke="#000" stroke-width="1.15"/>
<rect x="33.35" y="376.55" width="4.50" height="4.50" fill="#000" stroke="#000" stroke-width="1.15"/>
<rect x="35.75" y="376.55" width="4.50" height="4.50" fill="#000" stroke="#000" stroke-width="1.15"/>
<line x1="26.20" y1="378.50" x2="39.00" y2="378.50" stroke="#000" stroke-width="1.6" stroke-linecap="butt"/>
<path d="M55.70,316.21 L57.74,319.62 L53.66,319.62 Z" fill="none" stroke="#dc1c2c" stroke-width="1.15"/>
<path d="M49.50,323.71 L51.54,327.12 L47.46,327.12 Z" fill="none" stroke="#dc1c2c" stroke-width="1.15"/>
<path d="M55.40,323.71 L57.44,327.12 L53.36,327.12 Z" fill="none" stroke="#dc1c2c" stroke-width="1.15"/>
<path d="M55.90,331.11 L57.94,334.51 L53.86,334.51 Z" fill="none" stroke="#dc1c2c" stroke-width="1.15"/>
<path d="M58.80,331.11 L60.84,334.51 L56.76,334.51 Z" fill="none" stroke="#dc1c2c" stroke-width="1.15"/>
<path d="M49.40,339.21 L51.44,342.62 L47.36,342.62 Z" fill="none" stroke="#dc1c2c" stroke-width="1.15"/>
<path d="M55.40,339.21 L57.44,342.62 L53.36,342.62 Z" fill="none" stroke="#dc1c2c" stroke-width="1.15"/>
<path d="M55.40,347.01 L57.44,350.42 L53.36,350.42 Z" fill="none" stroke="#dc1c2c" stroke-width="1.15"/>
<path d="M58.80,347.01 L60.84,350.42 L56.76,350.42 Z" fill="none" stroke="#dc1c2c" stroke-width="1.15"/>
<line x1="48.20" y1="334.30" x2="61.60" y2="334.30" stroke="#dc1c2c" stroke-width="1.6" stroke-linecap="butt"/>
<path d="M77.00,331.11 L79.04,334.51 L74.96,334.51 Z" fill="none" stroke="#dc1c2c" stroke-width="1.15"/>
<path d="M79.90,331.11 L81.94,334.51 L77.86,334.51 Z" fill="none" stroke="#dc1c2c" stroke-width="1.15"/>
<path d="M70.60,339.21 L72.64,342.62 L68.56,342.62 Z" fill="none" stroke="#dc1c2c" stroke-width="1.15"/>
<path d="M76.50,339.21 L78.54,342.62 L74.46,342.62 Z" fill="none" stroke="#dc1c2c" stroke-width="1.15"/>
<path d="M72.40,347.01 L74.44,350.42 L70.36,350.42 Z" fill="none" stroke="#dc1c2c" stroke-width="1.15"/>
<path d="M75.20,347.01 L77.24,350.42 L73.16,350.42 Z" fill="none" stroke="#dc1c2c" stroke-width="1.15"/>
<path d="M78.00,347.01 L80.04,350.42 L75.96,350.42 Z" fill="none" stroke="#dc1c2c" stroke-width="1.15"/>
<path d="M80.80,347.01 L82.84,350.42 L78.76,350.42 Z" fill="none" stroke="#dc1c2c" stroke-width="1.15"/>
<path d="M76.50,354.41 L78.54,357.81 L74.46,357.81 Z" fill="none" stroke="#dc1c2c" stroke-width="1.15"/>
<path d="M76.00,361.61 L78.04,365.01 L73.96,365.01 Z" fill="none" stroke="#dc1c2c" stroke-width="1.15"/>
<path d="M79.40,361.61 L81.44,365.01 L77.36,365.01 Z" fill="none" stroke="#dc1c2c" stroke-width="1.15"/>
<line x1="68.80" y1="347.10" x2="82.80" y2="347.10" stroke="#dc1c2c" stroke-width="1.6" stroke-linecap="butt"/>
<path d="M91.90,315.75 L93.95,317.80 L91.90,319.85 L89.85,317.80 Z" fill="none" stroke="#2020b4" stroke-width="1.15"/>
<path d="M98.00,315.75 L100.05,317.80 L98.00,319.85 L95.95,317.80 Z" fill="none" stroke="#2020b4" stroke-width="1.15"/>
<path d="M97.50,330.45 L99.55,332.50 L97.50,334.55 L95.45,332.50 Z" fill="none" stroke="#2020b4" stroke-width="1.15"/>
<path d="M100.90,330.45 L102.95,332.50 L100.90,334.55 L98.85,332.50 Z" fill="none" stroke="#2020b4" stroke-width="1.15"/>
<path d="M98.00,345.65 L100.05,347.70 L98.00,349.75 L95.95,347.70 Z" fill="none" stroke="#2020b4" stroke-width="1.15"/>
<path d="M94.50,353.75 L96.55,355.80 L94.50,357.85 L92.45,355.80 Z" fill="none" stroke="#2020b4" stroke-width="1.15"/>
<path d="M98.20,353.75 L100.25,355.80 L98.20,357.85 L96.15,355.80 Z" fill="#2020b4" stroke="#2020b4" stroke-width="1.15"/>
<path d="M100.20,353.75 L102.25,355.80 L100.20,357.85 L98.15,355.80 Z" fill="#2020b4" stroke="#2020b4" stroke-width="1.15"/>
<path d="M102.20,353.75 L104.25,355.80 L102.20,357.85 L100.15,355.80 Z" fill="#2020b4" stroke="#2020b4" stroke-width="1.15"/>
<line x1="90.20" y1="341.10" x2="104.00" y2="341.10" stroke="#2020b4" stroke-width="1.6" stroke-linecap="butt"/>
<path d="M119.30,315.75 L121.35,317.80 L119.30,319.85 L117.25,317.80 Z" fill="none" stroke="#2020b4" stroke-width="1.15"/>
<path d="M115.80,323.55 L117.85,325.60 L115.80,327.65 L113.75,325.60 Z" fill="none" stroke="#2020b4" stroke-width="1.15"/>
<path d="M119.30,323.55 L121.35,325.60 L119.30,327.65 L117.25,325.60 Z" fill="none" stroke="#2020b4" stroke-width="1.15"/>
<path d="M122.70,323.55 L124.75,325.60 L122.70,327.65 L120.65,325.60 Z" fill="none" stroke="#2020b4" stroke-width="1.15"/>
<path d="M119.30,330.45 L121.35,332.50 L119.30,334.55 L117.25,332.50 Z" fill="none" stroke="#2020b4" stroke-width="1.15"/>
<path d="M119.30,345.65 L121.35,347.70 L119.30,349.75 L117.25,347.70 Z" fill="none" stroke="#2020b4" stroke-width="1.15"/>
<path d="M119.30,368.55 L121.35,370.60 L119.30,372.65 L117.25,370.60 Z" fill="none" stroke="#2020b4" stroke-width="1.15"/>
<path d="M118.00,376.85 L120.05,378.90 L118.00,380.95 L115.95,378.90 Z" fill="none" stroke="#2020b4" stroke-width="1.15"/>
<path d="M121.30,376.85 L123.35,378.90 L121.30,380.95 L119.25,378.90 Z" fill="none" stroke="#2020b4" stroke-width="1.15"/>
<line x1="111.80" y1="344.10" x2="125.70" y2="344.10" stroke="#2020b4" stroke-width="1.6" stroke-linecap="butt"/>
<circle cx="134.30" cy="370.90" r="2.18" fill="none" stroke="#2a9a3a" stroke-width="1.15"/>
<circle cx="141.10" cy="370.90" r="2.18" fill="none" stroke="#2a9a3a" stroke-width="1.15"/>
<circle cx="137.60" cy="378.70" r="2.18" fill="#18c818" stroke="#1fa81f" stroke-width="1.15"/>
<circle cx="140.20" cy="378.70" r="2.18" fill="#18c818" stroke="#1fa81f" stroke-width="1.15"/>
<circle cx="142.80" cy="378.70" r="2.18" fill="#18c818" stroke="#1fa81f" stroke-width="1.15"/>
<circle cx="144.60" cy="378.70" r="2.18" fill="#18c818" stroke="#1fa81f" stroke-width="1.15"/>
<line x1="132.70" y1="376.60" x2="147.00" y2="376.60" stroke="#2a9a3a" stroke-width="1.6" stroke-linecap="butt"/>
<circle cx="157.80" cy="379.00" r="2.18" fill="#18c818" stroke="#1fa81f" stroke-width="1.15"/>
<circle cx="160.40" cy="379.00" r="2.18" fill="#18c818" stroke="#1fa81f" stroke-width="1.15"/>
<circle cx="163.00" cy="379.00" r="2.18" fill="#18c818" stroke="#1fa81f" stroke-width="1.15"/>
<circle cx="165.40" cy="379.00" r="2.18" fill="#18c818" stroke="#1fa81f" stroke-width="1.15"/>
<line x1="153.80" y1="378.60" x2="167.50" y2="378.60" stroke="#2a9a3a" stroke-width="1.6" stroke-linecap="butt"/>
<path d="M229.00,304.60 L229.00,300.00 L313.50,300.00 L313.50,304.60" fill="none" stroke="#383838" stroke-width="1.35"/>
<text transform="translate(241.00 296.50) scale(1.07 1)" font-size="9.3" fill="#1e1e1e" stroke="#1e1e1e" stroke-width="0.2" font-style="italic">P</text>
<text transform="translate(250.90 296.50) scale(1.07 1)" font-size="9.3" fill="#1e1e1e" stroke="#1e1e1e" stroke-width="0.2" font-style="normal">&lt;</text>
<text transform="translate(258.90 296.50) scale(1.07 1)" font-size="9.3" fill="#1e1e1e" stroke="#1e1e1e" stroke-width="0.2" font-style="normal">0.0001</text>
<path d="M249.80,317.00 L249.80,312.00 L333.60,312.00 L333.60,317.00" fill="none" stroke="#383838" stroke-width="1.35"/>
<text transform="translate(263.10 308.90) scale(1.07 1)" font-size="9.3" fill="#1e1e1e" stroke="#1e1e1e" stroke-width="0.2" font-style="italic">P</text>
<text transform="translate(273.00 308.90) scale(1.07 1)" font-size="9.3" fill="#1e1e1e" stroke="#1e1e1e" stroke-width="0.2" font-style="normal">&lt;</text>
<text transform="translate(281.00 308.90) scale(1.07 1)" font-size="9.3" fill="#1e1e1e" stroke="#1e1e1e" stroke-width="0.2" font-style="normal">0.001</text>
<rect x="201.70" y="357.70" width="10.10" height="5.30" fill="none" stroke="#000" stroke-width="1.3"/>
<line x1="205.00" y1="357.70" x2="205.00" y2="363.00" stroke="#000" stroke-width="1.3" stroke-linecap="butt"/>
<line x1="208.30" y1="357.70" x2="208.30" y2="363.00" stroke="#000" stroke-width="1.3" stroke-linecap="butt"/>
<rect x="204.60" y="369.60" width="2.90" height="5.10" fill="#777"/>
<rect x="210.30" y="369.60" width="2.80" height="5.10" fill="#444"/>
<rect x="198.70" y="369.60" width="14.40" height="5.10" fill="none" stroke="#000" stroke-width="1.3"/>
<line x1="201.60" y1="369.60" x2="201.60" y2="374.70" stroke="#000" stroke-width="1.3" stroke-linecap="butt"/>
<line x1="204.60" y1="369.60" x2="204.60" y2="374.70" stroke="#000" stroke-width="1.3" stroke-linecap="butt"/>
<line x1="207.50" y1="369.60" x2="207.50" y2="374.70" stroke="#000" stroke-width="1.3" stroke-linecap="butt"/>
<line x1="210.30" y1="369.60" x2="210.30" y2="374.70" stroke="#000" stroke-width="1.3" stroke-linecap="butt"/>
<rect x="204.70" y="378.00" width="7.90" height="4.90" fill="none" stroke="#000" stroke-width="1.3"/>
<line x1="207.40" y1="378.00" x2="207.40" y2="382.90" stroke="#000" stroke-width="1.3" stroke-linecap="butt"/>
<line x1="210.00" y1="378.00" x2="210.00" y2="382.90" stroke="#000" stroke-width="1.3" stroke-linecap="butt"/>
<path d="M231.20,323.69 L233.24,320.28 L229.16,320.28 Z" fill="none" stroke="#dc1c2c" stroke-width="1.15"/>
<path d="M227.90,329.19 L229.94,325.78 L225.86,325.78 Z" fill="none" stroke="#dc1c2c" stroke-width="1.15"/>
<path d="M224.70,330.99 L226.74,327.58 L222.66,327.58 Z" fill="none" stroke="#dc1c2c" stroke-width="1.15"/>
<path d="M231.60,331.99 L233.64,328.58 L229.56,328.58 Z" fill="none" stroke="#dc1c2c" stroke-width="1.15"/>
<path d="M221.90,334.69 L223.94,331.28 L219.86,331.28 Z" fill="none" stroke="#dc1c2c" stroke-width="1.15"/>
<path d="M228.40,337.49 L230.44,334.08 L226.36,334.08 Z" fill="none" stroke="#dc1c2c" stroke-width="1.15"/>
<path d="M225.20,343.49 L227.24,340.08 L223.16,340.08 Z" fill="none" stroke="#dc1c2c" stroke-width="1.15"/>
<path d="M231.20,343.49 L233.24,340.08 L229.16,340.08 Z" fill="none" stroke="#dc1c2c" stroke-width="1.15"/>
<path d="M227.90,349.49 L229.94,346.08 L225.86,346.08 Z" fill="none" stroke="#dc1c2c" stroke-width="1.15"/>
<line x1="223.30" y1="334.30" x2="234.40" y2="334.30" stroke="#dc1c2c" stroke-width="1.6" stroke-linecap="butt"/>
<path d="M249.40,320.39 L251.44,316.99 L247.36,316.99 Z" fill="none" stroke="#dc1c2c" stroke-width="1.15"/>
<path d="M246.40,326.39 L248.44,322.99 L244.36,322.99 Z" fill="none" stroke="#dc1c2c" stroke-width="1.15"/>
<path d="M249.70,331.99 L251.74,328.58 L247.66,328.58 Z" fill="none" stroke="#dc1c2c" stroke-width="1.15"/>
<path d="M252.40,331.99 L254.44,328.58 L250.36,328.58 Z" fill="none" stroke="#dc1c2c" stroke-width="1.15"/>
<path d="M249.20,343.49 L251.24,340.08 L247.16,340.08 Z" fill="none" stroke="#dc1c2c" stroke-width="1.15"/>
<path d="M246.40,345.79 L248.44,342.38 L244.36,342.38 Z" fill="none" stroke="#dc1c2c" stroke-width="1.15"/>
<path d="M249.20,345.79 L251.24,342.38 L247.16,342.38 Z" fill="none" stroke="#dc1c2c" stroke-width="1.15"/>
<path d="M252.00,345.79 L254.04,342.38 L249.96,342.38 Z" fill="none" stroke="#dc1c2c" stroke-width="1.15"/>
<path d="M249.40,352.79 L251.44,349.38 L247.36,349.38 Z" fill="none" stroke="#dc1c2c" stroke-width="1.15"/>
<line x1="241.80" y1="337.60" x2="255.70" y2="337.60" stroke="#dc1c2c" stroke-width="1.6" stroke-linecap="butt"/>
<path d="M267.90,322.95 L269.95,325.00 L267.90,327.05 L265.85,325.00 Z" fill="none" stroke="#2020b4" stroke-width="1.15"/>
<path d="M272.70,326.45 L274.75,328.50 L272.70,330.55 L270.65,328.50 Z" fill="none" stroke="#2020b4" stroke-width="1.15"/>
<path d="M274.10,326.45 L276.15,328.50 L274.10,330.55 L272.05,328.50 Z" fill="none" stroke="#2020b4" stroke-width="1.15"/>
<path d="M264.40,328.75 L266.45,330.80 L264.40,332.85 L262.35,330.80 Z" fill="none" stroke="#2020b4" stroke-width="1.15"/>
<path d="M270.60,328.75 L272.65,330.80 L270.60,332.85 L268.55,330.80 Z" fill="none" stroke="#2020b4" stroke-width="1.15"/>
<path d="M264.40,340.55 L266.45,342.60 L264.40,344.65 L262.35,342.60 Z" fill="none" stroke="#2020b4" stroke-width="1.15"/>
<path d="M270.60,340.55 L272.65,342.60 L270.60,344.65 L268.55,342.60 Z" fill="none" stroke="#2020b4" stroke-width="1.15"/>
<path d="M270.60,348.95 L272.65,351.00 L270.60,353.05 L268.55,351.00 Z" fill="none" stroke="#2020b4" stroke-width="1.15"/>
<path d="M274.10,358.25 L276.15,360.30 L274.10,362.35 L272.05,360.30 Z" fill="none" stroke="#2020b4" stroke-width="1.15"/>
<path d="M270.60,364.05 L272.65,366.10 L270.60,368.15 L268.55,366.10 Z" fill="none" stroke="#2020b4" stroke-width="1.15"/>
<line x1="262.90" y1="341.60" x2="277.50" y2="341.60" stroke="#2020b4" stroke-width="1.6" stroke-linecap="butt"/>
<path d="M294.90,323.35 L296.95,325.40 L294.90,327.45 L292.85,325.40 Z" fill="none" stroke="#2020b4" stroke-width="1.15"/>
<path d="M292.40,324.95 L294.45,327.00 L292.40,329.05 L290.35,327.00 Z" fill="none" stroke="#2020b4" stroke-width="1.15"/>
<path d="M286.20,331.25 L288.25,333.30 L286.20,335.35 L284.15,333.30 Z" fill="none" stroke="#2020b4" stroke-width="1.15"/>
<path d="M292.40,334.75 L294.45,336.80 L292.40,338.85 L290.35,336.80 Z" fill="none" stroke="#2020b4" stroke-width="1.15"/>
<path d="M292.00,342.65 L294.05,344.70 L292.00,346.75 L289.95,344.70 Z" fill="none" stroke="#2020b4" stroke-width="1.15"/>
<path d="M294.50,342.65 L296.55,344.70 L294.50,346.75 L292.45,344.70 Z" fill="none" stroke="#2020b4" stroke-width="1.15"/>
<path d="M292.40,351.95 L294.45,354.00 L292.40,356.05 L290.35,354.00 Z" fill="none" stroke="#2020b4" stroke-width="1.15"/>
<path d="M292.40,364.05 L294.45,366.10 L292.40,368.15 L290.35,366.10 Z" fill="none" stroke="#2020b4" stroke-width="1.15"/>
<line x1="284.10" y1="341.60" x2="298.70" y2="341.60" stroke="#2020b4" stroke-width="1.6" stroke-linecap="butt"/>
<circle cx="313.60" cy="331.20" r="2.18" fill="none" stroke="#2a9a3a" stroke-width="1.15"/>
<circle cx="313.60" cy="345.70" r="2.18" fill="none" stroke="#2a9a3a" stroke-width="1.15"/>
<circle cx="313.60" cy="372.30" r="2.18" fill="none" stroke="#2a9a3a" stroke-width="1.15"/>
<circle cx="310.20" cy="366.50" r="2.18" fill="#18c818" stroke="#1fa81f" stroke-width="1.15"/>
<circle cx="312.80" cy="366.50" r="2.18" fill="#18c818" stroke="#1fa81f" stroke-width="1.15"/>
<circle cx="315.40" cy="366.50" r="2.18" fill="#18c818" stroke="#1fa81f" stroke-width="1.15"/>
<circle cx="317.60" cy="366.50" r="2.18" fill="#18c818" stroke="#1fa81f" stroke-width="1.15"/>
<line x1="305.30" y1="360.30" x2="319.90" y2="360.30" stroke="#2a9a3a" stroke-width="1.6" stroke-linecap="butt"/>
<circle cx="334.40" cy="351.00" r="2.18" fill="none" stroke="#2a9a3a" stroke-width="1.15"/>
<circle cx="331.50" cy="356.50" r="2.18" fill="none" stroke="#2a9a3a" stroke-width="1.15"/>
<circle cx="327.80" cy="360.30" r="2.18" fill="none" stroke="#2a9a3a" stroke-width="1.15"/>
<circle cx="337.10" cy="360.30" r="2.18" fill="none" stroke="#2a9a3a" stroke-width="1.15"/>
<circle cx="332.30" cy="366.00" r="2.18" fill="none" stroke="#2a9a3a" stroke-width="1.15"/>
<circle cx="337.10" cy="366.00" r="2.18" fill="none" stroke="#2a9a3a" stroke-width="1.15"/>
<circle cx="330.30" cy="372.30" r="2.18" fill="none" stroke="#2a9a3a" stroke-width="1.15"/>
<circle cx="334.40" cy="372.30" r="2.18" fill="none" stroke="#2a9a3a" stroke-width="1.15"/>
<circle cx="338.20" cy="372.30" r="2.18" fill="none" stroke="#2a9a3a" stroke-width="1.15"/>
<line x1="326.70" y1="362.40" x2="340.20" y2="362.40" stroke="#2a9a3a" stroke-width="1.6" stroke-linecap="butt"/>
<text transform="translate(421.60 295.50) scale(1.07 1)" font-size="9.3" fill="#1e1e1e" stroke="#1e1e1e" stroke-width="0.2" font-style="italic">P</text>
<text transform="translate(431.60 295.50) scale(1.07 1)" font-size="9.3" fill="#1e1e1e" stroke="#1e1e1e" stroke-width="0.2" font-style="normal">&lt;</text>
<text transform="translate(442.40 295.50) scale(1.07 1)" font-size="9.3" fill="#1e1e1e" stroke="#1e1e1e" stroke-width="0.2" font-style="normal">0.0001</text>
<path d="M402.60,303.30 L402.60,298.50 L487.30,298.50 L487.30,303.30" fill="none" stroke="#383838" stroke-width="1.35"/>
<text transform="translate(411.20 307.60) scale(1.07 1)" font-size="9.3" fill="#1e1e1e" stroke="#1e1e1e" stroke-width="0.2" font-style="italic">P</text>
<text transform="translate(423.20 307.60) scale(1.07 1)" font-size="9.3" fill="#1e1e1e" stroke="#1e1e1e" stroke-width="0.2" font-style="normal">=</text>
<text transform="translate(431.90 307.60) scale(1.07 1)" font-size="9.3" fill="#1e1e1e" stroke="#1e1e1e" stroke-width="0.2" font-style="normal">0.0093</text>
<path d="M378.80,315.30 L378.80,310.20 L486.90,310.20 L486.90,315.30" fill="none" stroke="#383838" stroke-width="1.35"/>
<text transform="translate(436.70 324.20) scale(1.07 1)" font-size="9.3" fill="#1e1e1e" stroke="#1e1e1e" stroke-width="0.2" font-style="italic">P</text>
<text transform="translate(446.60 324.20) scale(1.07 1)" font-size="9.3" fill="#1e1e1e" stroke="#1e1e1e" stroke-width="0.2" font-style="normal">&lt;</text>
<text transform="translate(454.60 324.20) scale(1.07 1)" font-size="9.3" fill="#1e1e1e" stroke="#1e1e1e" stroke-width="0.2" font-style="normal">0.0001</text>
<path d="M422.80,331.80 L422.80,326.80 L508.00,326.80 L508.00,331.80" fill="none" stroke="#383838" stroke-width="1.35"/>
<rect x="372.55" y="368.05" width="4.50" height="4.50" fill="none" stroke="#000" stroke-width="1.15"/>
<rect x="378.75" y="370.45" width="4.50" height="4.50" fill="none" stroke="#000" stroke-width="1.15"/>
<rect x="376.26" y="378.46" width="4.68" height="4.68" fill="#000" stroke="#000" stroke-width="1.15"/>
<rect x="379.46" y="378.46" width="4.68" height="4.68" fill="#000" stroke="#000" stroke-width="1.15"/>
<rect x="377.86" y="379.26" width="4.68" height="4.68" fill="#000" stroke="#000" stroke-width="1.15"/>
<rect x="380.66" y="379.26" width="4.68" height="4.68" fill="#000" stroke="#000" stroke-width="1.15"/>
<line x1="374.00" y1="378.60" x2="386.90" y2="378.60" stroke="#000" stroke-width="1.6" stroke-linecap="butt"/>
<path d="M401.80,320.19 L403.84,316.78 L399.76,316.78 Z" fill="none" stroke="#dc1c2c" stroke-width="1.15"/>
<path d="M404.70,318.89 L406.74,315.49 L402.66,315.49 Z" fill="none" stroke="#dc1c2c" stroke-width="1.15"/>
<path d="M398.70,340.59 L400.74,337.19 L396.66,337.19 Z" fill="none" stroke="#dc1c2c" stroke-width="1.15"/>
<path d="M396.00,343.89 L398.04,340.49 L393.96,340.49 Z" fill="none" stroke="#dc1c2c" stroke-width="1.15"/>
<path d="M402.00,343.89 L404.04,340.49 L399.96,340.49 Z" fill="none" stroke="#dc1c2c" stroke-width="1.15"/>
<path d="M405.40,343.49 L407.44,340.08 L403.36,340.08 Z" fill="none" stroke="#dc1c2c" stroke-width="1.15"/>
<path d="M403.40,346.59 L405.44,343.19 L401.36,343.19 Z" fill="none" stroke="#dc1c2c" stroke-width="1.15"/>
<path d="M401.80,350.19 L403.84,346.78 L399.76,346.78 Z" fill="none" stroke="#dc1c2c" stroke-width="1.15"/>
<line x1="394.30" y1="336.80" x2="408.10" y2="336.80" stroke="#dc1c2c" stroke-width="1.6" stroke-linecap="butt"/>
<path d="M423.20,336.59 L425.24,333.19 L421.16,333.19 Z" fill="none" stroke="#dc1c2c" stroke-width="1.15"/>
<path d="M421.50,339.89 L423.54,336.49 L419.46,336.49 Z" fill="none" stroke="#dc1c2c" stroke-width="1.15"/>
<path d="M425.50,341.19 L427.54,337.78 L423.46,337.78 Z" fill="none" stroke="#dc1c2c" stroke-width="1.15"/>
<path d="M416.80,342.59 L418.84,339.19 L414.76,339.19 Z" fill="none" stroke="#dc1c2c" stroke-width="1.15"/>
<path d="M426.10,343.89 L428.14,340.49 L424.06,340.49 Z" fill="none" stroke="#dc1c2c" stroke-width="1.15"/>
<path d="M420.80,344.59 L422.84,341.19 L418.76,341.19 Z" fill="none" stroke="#dc1c2c" stroke-width="1.15"/>
<path d="M423.50,349.89 L425.54,346.49 L421.46,346.49 Z" fill="none" stroke="#dc1c2c" stroke-width="1.15"/>
<path d="M417.40,354.59 L419.44,351.19 L415.36,351.19 Z" fill="none" stroke="#dc1c2c" stroke-width="1.15"/>
<path d="M423.50,360.39 L425.54,356.99 L421.46,356.99 Z" fill="none" stroke="#dc1c2c" stroke-width="1.15"/>
<path d="M423.50,365.79 L425.54,362.38 L421.46,362.38 Z" fill="none" stroke="#dc1c2c" stroke-width="1.15"/>
<line x1="416.10" y1="346.50" x2="430.20" y2="346.50" stroke="#dc1c2c" stroke-width="1.6" stroke-linecap="butt"/>
<path d="M444.70,327.95 L446.75,330.00 L444.70,332.05 L442.65,330.00 Z" fill="none" stroke="#2020b4" stroke-width="1.15"/>
<path d="M447.30,334.35 L449.35,336.40 L447.30,338.45 L445.25,336.40 Z" fill="none" stroke="#2020b4" stroke-width="1.15"/>
<path d="M438.70,336.15 L440.75,338.20 L438.70,340.25 L436.65,338.20 Z" fill="none" stroke="#2020b4" stroke-width="1.15"/>
<path d="M444.70,338.75 L446.75,340.80 L444.70,342.85 L442.65,340.80 Z" fill="none" stroke="#2020b4" stroke-width="1.15"/>
<path d="M444.70,345.65 L446.75,347.70 L444.70,349.75 L442.65,347.70 Z" fill="none" stroke="#2020b4" stroke-width="1.15"/>
<path d="M447.30,349.45 L449.35,351.50 L447.30,353.55 L445.25,351.50 Z" fill="none" stroke="#2020b4" stroke-width="1.15"/>
<path d="M438.70,352.95 L440.75,355.00 L438.70,357.05 L436.65,355.00 Z" fill="none" stroke="#2020b4" stroke-width="1.15"/>
<path d="M444.70,354.25 L446.75,356.30 L444.70,358.35 L442.65,356.30 Z" fill="none" stroke="#2020b4" stroke-width="1.15"/>
<path d="M444.70,364.35 L446.75,366.40 L444.70,368.45 L442.65,366.40 Z" fill="none" stroke="#2020b4" stroke-width="1.15"/>
<line x1="436.90" y1="346.50" x2="451.10" y2="346.50" stroke="#2020b4" stroke-width="1.6" stroke-linecap="butt"/>
<path d="M459.80,339.95 L461.85,342.00 L459.80,344.05 L457.75,342.00 Z" fill="none" stroke="#2020b4" stroke-width="1.15"/>
<path d="M466.00,339.95 L468.05,342.00 L466.00,344.05 L463.95,342.00 Z" fill="none" stroke="#2020b4" stroke-width="1.15"/>
<path d="M466.00,347.35 L468.05,349.40 L466.00,351.45 L463.95,349.40 Z" fill="none" stroke="#2020b4" stroke-width="1.15"/>
<path d="M459.80,350.85 L461.85,352.90 L459.80,354.95 L457.75,352.90 Z" fill="none" stroke="#2020b4" stroke-width="1.15"/>
<path d="M466.00,350.85 L468.05,352.90 L466.00,354.95 L463.95,352.90 Z" fill="none" stroke="#2020b4" stroke-width="1.15"/>
<path d="M469.40,350.85 L471.45,352.90 L469.40,354.95 L467.35,352.90 Z" fill="none" stroke="#2020b4" stroke-width="1.15"/>
<path d="M466.00,353.95 L468.05,356.00 L466.00,358.05 L463.95,356.00 Z" fill="none" stroke="#2020b4" stroke-width="1.15"/>
<path d="M462.90,361.25 L464.95,363.30 L462.90,365.35 L460.85,363.30 Z" fill="none" stroke="#2020b4" stroke-width="1.15"/>
<path d="M466.00,361.25 L468.05,363.30 L466.00,365.35 L463.95,363.30 Z" fill="none" stroke="#2020b4" stroke-width="1.15"/>
<path d="M468.90,361.25 L470.95,363.30 L468.90,365.35 L466.85,363.30 Z" fill="none" stroke="#2020b4" stroke-width="1.15"/>
<line x1="457.70" y1="352.90" x2="471.50" y2="352.90" stroke="#2020b4" stroke-width="1.6" stroke-linecap="butt"/>
<circle cx="484.30" cy="362.10" r="2.18" fill="none" stroke="#2a9a3a" stroke-width="1.15"/>
<circle cx="490.60" cy="363.70" r="2.18" fill="none" stroke="#2a9a3a" stroke-width="1.15"/>
<circle cx="487.50" cy="365.60" r="2.18" fill="none" stroke="#2a9a3a" stroke-width="1.15"/>
<circle cx="481.10" cy="371.00" r="2.18" fill="none" stroke="#2a9a3a" stroke-width="1.15"/>
<circle cx="484.10" cy="371.00" r="2.18" fill="none" stroke="#2a9a3a" stroke-width="1.15"/>
<circle cx="487.10" cy="371.00" r="2.18" fill="none" stroke="#2a9a3a" stroke-width="1.15"/>
<circle cx="490.10" cy="371.00" r="2.18" fill="none" stroke="#2a9a3a" stroke-width="1.15"/>
<circle cx="487.50" cy="381.40" r="2.18" fill="none" stroke="#2a9a3a" stroke-width="1.15"/>
<circle cx="490.60" cy="381.40" r="2.18" fill="none" stroke="#2a9a3a" stroke-width="1.15"/>
<circle cx="483.00" cy="371.00" r="2.18" fill="#18c818" stroke="#1fa81f" stroke-width="1.15"/>
<circle cx="486.00" cy="371.00" r="2.18" fill="#18c818" stroke="#1fa81f" stroke-width="1.15"/>
<circle cx="489.00" cy="371.00" r="2.18" fill="#18c818" stroke="#1fa81f" stroke-width="1.15"/>
<line x1="479.80" y1="368.80" x2="492.70" y2="368.80" stroke="#2a9a3a" stroke-width="1.6" stroke-linecap="butt"/>
<circle cx="504.50" cy="380.80" r="2.18" fill="#18c818" stroke="#1fa81f" stroke-width="1.15"/>
<circle cx="507.50" cy="380.80" r="2.18" fill="#18c818" stroke="#1fa81f" stroke-width="1.15"/>
<circle cx="510.50" cy="380.80" r="2.18" fill="#18c818" stroke="#1fa81f" stroke-width="1.15"/>
<circle cx="508.00" cy="378.60" r="2.18" fill="#18c818" stroke="#1fa81f" stroke-width="1.15"/>
<circle cx="506.50" cy="381.60" r="2.18" fill="#18c818" stroke="#1fa81f" stroke-width="1.15"/>
<circle cx="509.50" cy="381.60" r="2.18" fill="#18c818" stroke="#1fa81f" stroke-width="1.15"/>
<line x1="500.10" y1="379.70" x2="514.40" y2="379.70" stroke="#2a9a3a" stroke-width="1.6" stroke-linecap="butt"/>
</svg>
</body></html>
